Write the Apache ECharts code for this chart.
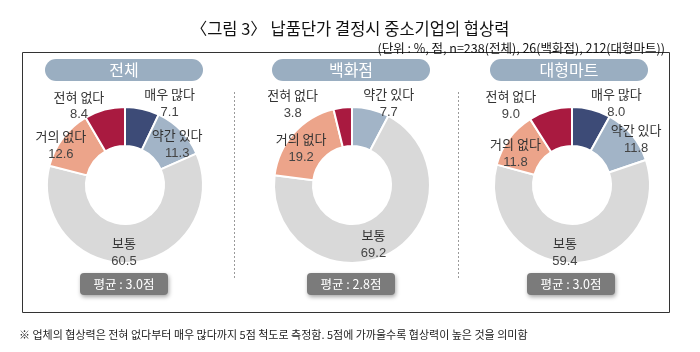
<!DOCTYPE html>
<html>
<head>
<meta charset="utf-8">
<script src="https://cdn.jsdelivr.net/npm/echarts@6/dist/echarts.min.js"></script>
<style>
  html, body { margin: 0; padding: 0; background: #fff; }
  #chart { width: 700px; height: 352px; }
</style>
</head>
<body>
<div id="chart"></div>
<script>
  // 응답 범주 (12시 방향부터 시계방향)
  const categories = ['매우 많다', '약간 있다', '보통', '거의 없다', '전혀 없다'];
  const groups = ['전체', '백화점', '대형마트'];
  const totalValues = [7.1, 11.3, 60.5, 12.6, 8.4];
  const deptValues = [0, 7.7, 69.2, 19.2, 3.8];
  const martValues = [8.0, 11.8, 59.4, 11.8, 9.0];
  const averages = [3.0, 2.8, 3.0];

  const colors = ['#3d4b77', '#a2b4c7', '#d9d9d9', '#eca48a', '#a91a40'];
  const font = '"Noto Sans CJK KR", "Noto Sans", sans-serif';

  // 패널 배치
  const centersX = [125, 352, 572];
  const pillX = [45, 272, 490];
  const avgX = [80, 307, 527];
  // 라벨을 조각 안쪽 기본 위치에서 옮기는 양
  const labelOffsets = [
    [[31, -22], [8, 2], [-6, 6], [-15, -3], [-30, -20]],
    [[0, 0], [22, -22], [-7, 5], [-5, 4], [-52, -20]],
    [[29, -22], [17, -6], [-9, 6], [-7, 5], [-44, -21]]
  ];

  const allValues = [totalValues, deptValues, martValues];

  var series = allValues.map(function (vals, g) {
    var data = [];
    vals.forEach(function (v, i) {
      if (v <= 0) return;
      data.push({
        name: categories[i],
        value: v,
        itemStyle: { color: colors[i] },
        label: { offset: labelOffsets[g][i] }
      });
    });
    return {
      type: 'pie',
      center: [centersX[g], 185],
      radius: [39, 78],
      startAngle: 90,
      avoidLabelOverlap: false,
      silent: true,
      itemStyle: { borderColor: '#fff', borderWidth: 2 },
      label: {
        position: 'inside',
        formatter: function (p) {
          return '{n|' + p.name + '}\n{v|' + p.value.toFixed(1) + '}';
        },
        rich: {
          n: { fontFamily: font, fontSize: 13, color: '#333', lineHeight: 18 },
          v: { fontFamily: 'Liberation Sans, Arial, sans-serif', fontSize: 13, color: '#444', lineHeight: 18 }
        }
      },
      labelLine: { show: false },
      data: data
    };
  });

  var graphics = [
    { type: 'rect', shape: { x: 22.5, y: 52.5, width: 647, height: 260 },
      style: { fill: 'none', stroke: '#333', lineWidth: 1 } },
    { type: 'line', shape: { x1: 234.5, y1: 92, x2: 234.5, y2: 280 },
      style: { stroke: '#9a9a9a', lineWidth: 1, lineDash: [2, 2] } },
    { type: 'line', shape: { x1: 458.5, y1: 92, x2: 458.5, y2: 280 },
      style: { stroke: '#9a9a9a', lineWidth: 1, lineDash: [2, 2] } }
  ];
  groups.forEach(function (name, g) {
    graphics.push({
      type: 'rect', shape: { x: pillX[g], y: 59, width: 158, height: 22, r: 11 },
      style: { fill: '#9aaec1' }
    });
    graphics.push({
      type: 'text', x: pillX[g] + 79, y: 70,
      style: { text: name, fill: '#fff', font: '16px ' + font, align: 'center', verticalAlign: 'middle' }
    });
    graphics.push({
      type: 'rect', shape: { x: avgX[g], y: 273, width: 88, height: 22, r: 4 },
      style: { fill: '#7b7b7b', shadowBlur: 4, shadowOffsetX: 1, shadowOffsetY: 2, shadowColor: 'rgba(0,0,0,0.35)' }
    });
    graphics.push({
      type: 'text', x: avgX[g] + 44, y: 284,
      style: { text: '평균 : ' + averages[g].toFixed(1) + '점', fill: '#fff', font: '12.5px ' + font, align: 'center', verticalAlign: 'middle' }
    });
  });

  var chart = echarts.init(document.getElementById('chart'));
  chart.setOption({
    animation: false,
    title: [{
      text: '〈그림 3〉 납품단가 결정시 중소기업의 협상력',
      left: 'center',
      top: 15,
      textStyle: { fontFamily: font, fontSize: 16.5, fontWeight: 'normal', color: '#111' }
    }, {
      text: '(단위 : %, 점, n=238(전체), 26(백화점), 212(대형마트))',
      right: 30,
      top: 37,
      textStyle: { fontFamily: font, fontSize: 12.5, fontWeight: 'normal', color: '#111' }
    }, {
      text: '※ 업체의 협상력은 전혀 없다부터 매우 많다까지 5점 척도로 측정함. 5점에 가까울수록 협상력이 높은 것을 의미함',
      left: 14,
      top: 324,
      textStyle: { fontFamily: font, fontSize: 11, fontWeight: 'normal', color: '#222' }
    }],
    graphic: graphics,
    series: series
  });
</script>
</body>
</html>
